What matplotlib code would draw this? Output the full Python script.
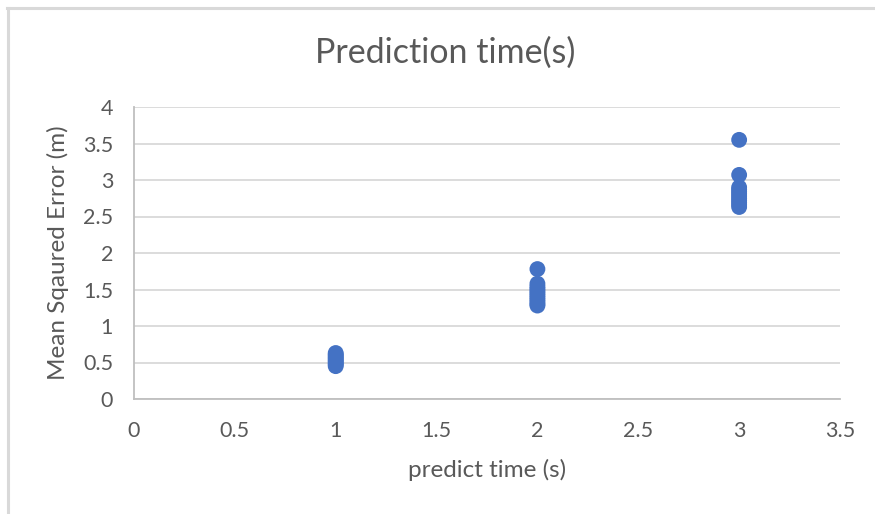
import matplotlib
matplotlib.use("Agg")
import matplotlib.pyplot as plt

# Prediction horizon (s) and the mean squared error of each run (m)
horizon_1s = [0.45, 0.47, 0.49, 0.51, 0.53, 0.55, 0.57, 0.59, 0.61, 0.63]
horizon_2s = [1.28, 1.30, 1.33, 1.36, 1.39, 1.42, 1.45, 1.48, 1.51, 1.54, 1.58, 1.78]
horizon_3s = [2.63, 2.66, 2.69, 2.72, 2.75, 2.78, 2.81, 2.84, 2.87, 2.90, 3.07, 3.55]
horizons = [1, 2, 3]
errors = [horizon_1s, horizon_2s, horizon_3s]

x_ticks = [0, 0.5, 1, 1.5, 2, 2.5, 3, 3.5]
y_ticks = [0, 0.5, 1, 1.5, 2, 2.5, 3, 3.5, 4]

plt.rcParams['font.family'] = ['Lato', 'DejaVu Sans']
text_color = '#595959'
grid_color = '#d9d9d9'
point_color = '#4472C4'

fig = plt.figure(figsize=(8.75, 5.14), dpi=100)
fig.patch.set_facecolor('white')

# Chart frame (top and left edges of the chart area)
fig.add_artist(plt.Line2D([7 / 875, 1.0], [1 - 8 / 514] * 2, color='#d9d9d9', lw=2.2,
                          transform=fig.transFigure))
fig.add_artist(plt.Line2D([8 / 875] * 2, [0.0, 1 - 8 / 514], color='#d9d9d9', lw=2.2,
                          transform=fig.transFigure))

ax = fig.add_axes([134 / 875, 1 - 399 / 514, (840 - 134) / 875, (399 - 107) / 514])

for h, vals in zip(horizons, errors):
    ax.scatter([h] * len(vals), vals, s=130, color=point_color, edgecolors='none', zorder=3)

ax.set_xlim(0, 3.5)
ax.set_ylim(0, 4)
ax.set_xticks(x_ticks)
ax.set_yticks(y_ticks)
ax.set_xticklabels([f"{v:g}" for v in x_ticks])
ax.set_yticklabels([f"{v:g}" for v in y_ticks])

ax.grid(axis='y', color=grid_color, lw=1.3, zorder=0)
ax.set_axisbelow(True)
for side in ['top', 'right']:
    ax.spines[side].set_visible(False)
for side in ['left', 'bottom']:
    ax.spines[side].set_color('#bfbfbf')
    ax.spines[side].set_linewidth(1.3)
ax.tick_params(length=0, labelsize=15.5, colors=text_color)
ax.tick_params(axis='x', pad=16)
ax.tick_params(axis='y', pad=15)

ax.set_xlabel('predict time (s)', fontsize=17.5, color=text_color, labelpad=13)
ax.set_ylabel('Mean Sqaured Error (m)', fontsize=17.5, color=text_color, labelpad=10)
fig.text(445 / 875, 1 - 53 / 514, 'Prediction time(s)', fontsize=24.5, color=text_color,
         ha='center', va='center')

fig.savefig('out.png', dpi=100, facecolor='white')
